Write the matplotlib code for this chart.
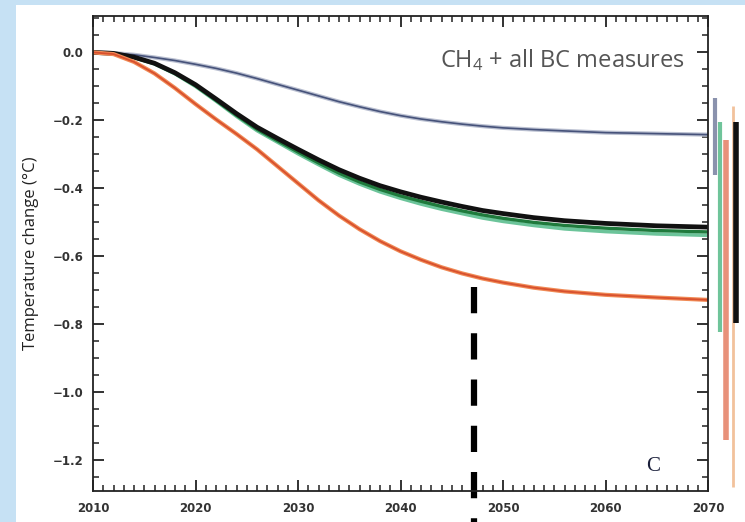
import matplotlib
matplotlib.use("Agg")
import matplotlib.pyplot as plt
from matplotlib.patches import Rectangle
from matplotlib.ticker import MultipleLocator, FuncFormatter

plt.rcParams["mathtext.fontset"] = "custom"
plt.rcParams["mathtext.rm"] = "Open Sans"
plt.rcParams["mathtext.it"] = "Open Sans"

years = [2010, 2012, 2014, 2016, 2018, 2020, 2022, 2024, 2026, 2028, 2030, 2032,
         2034, 2036, 2038, 2040, 2042, 2044, 2046, 2048, 2050, 2053, 2056, 2060,
         2065, 2070]

methane_only = [0.0, -0.002, -0.007, -0.015, -0.024, -0.035, -0.047, -0.061, -0.077,
                -0.094, -0.111, -0.128, -0.145, -0.160, -0.174, -0.186, -0.196,
                -0.204, -0.211, -0.217, -0.222, -0.227, -0.231, -0.236, -0.239,
                -0.242]
all_measures = [0.0, -0.003, -0.014, -0.032, -0.060, -0.095, -0.137, -0.180, -0.220,
                -0.253, -0.285, -0.316, -0.345, -0.370, -0.392, -0.410, -0.426,
                -0.440, -0.453, -0.465, -0.474, -0.486, -0.495, -0.503, -0.510,
                -0.514]
green_dark = [0.0, -0.003, -0.015, -0.033, -0.062, -0.098, -0.141, -0.185, -0.226,
              -0.260, -0.293, -0.325, -0.355, -0.381, -0.403, -0.422, -0.438,
              -0.453, -0.466, -0.478, -0.488, -0.500, -0.509, -0.517, -0.524,
              -0.528]
green_light = [0.0, -0.003, -0.015, -0.034, -0.063, -0.100, -0.143, -0.188, -0.230,
               -0.264, -0.298, -0.330, -0.361, -0.387, -0.410, -0.429, -0.446,
               -0.461, -0.474, -0.487, -0.497, -0.509, -0.519, -0.527, -0.534,
               -0.538]
orange_red = [0.0, -0.005, -0.028, -0.062, -0.105, -0.152, -0.197, -0.240, -0.285,
              -0.335, -0.385, -0.435, -0.480, -0.520, -0.555, -0.585, -0.610,
              -0.632, -0.650, -0.665, -0.677, -0.692, -0.703, -0.713, -0.721,
              -0.728]

# uncertainty bars drawn right of the axis
bar_x = [2070.7, 2071.2, 2071.8, 2072.4, 2072.7]
bar_low = [-0.362, -0.822, -1.140, -1.278, -0.796]
bar_high = [-0.134, -0.204, -0.257, -0.157, -0.204]
bar_colors = ["#8a92ad", "#6fc49a", "#e8917a", "#f2c29c", "#111111"]
bar_widths = [3, 3, 4, 2, 4]

target_year = 2047.2

fig = plt.figure(figsize=(7.45, 5.22), dpi=100, facecolor="#c6e1f4")
fig.add_artist(Rectangle((16 / 745, 0), 1, 1 - 5 / 522, transform=fig.transFigure,
                         facecolor="white", edgecolor="none", zorder=-5))
ax = fig.add_axes([93 / 745, 1 - 491 / 522, 615 / 745, 475 / 522])
ax.set_facecolor("white")

ax.plot(years, methane_only, color="#b9bfd0", lw=3.0)
ax.plot(years, methane_only, color="#46527a", lw=1.2)
ax.plot(years, green_light, color="#6cc49a", lw=2.6)
ax.plot(years, green_dark, color="#1f7a3c", lw=2.4)
ax.plot(years, all_measures, color="#111111", lw=3.4)
ax.plot(years, orange_red, color="#f08a55", lw=3.0)
ax.plot(years, orange_red, color="#d8502e", lw=1.3)

for x, lo, hi, c, w in zip(bar_x, bar_low, bar_high, bar_colors, bar_widths):
    ax.plot([x, x], [lo, hi], color=c, lw=w, solid_capstyle="butt", clip_on=False)

ax.plot([target_year, target_year], [-0.69, -1.38], color="black", lw=4.5,
        dashes=(4.2, 3.2), clip_on=False)

ax.set_xlim(2010, 2070)
ax.set_ylim(-1.29, 0.107)
ax.xaxis.set_major_locator(MultipleLocator(10))
ax.xaxis.set_minor_locator(MultipleLocator(1))
ax.yaxis.set_major_locator(MultipleLocator(0.2))
ax.yaxis.set_minor_locator(MultipleLocator(0.05))
ax.yaxis.set_major_formatter(FuncFormatter(
    lambda v, p: f"{v:.1f}".replace("-", "\u2212") if abs(v) > 1e-9 else "0.0"))
ax.tick_params(which="both", direction="in", top=True, right=True, color="#222222")
ax.tick_params(which="major", length=8, width=1.3)
ax.tick_params(which="minor", length=4, width=1.1)
ax.tick_params(axis="x", pad=8)
ax.tick_params(axis="y", pad=7)
for lab in ax.get_xticklabels() + ax.get_yticklabels():
    lab.set_fontsize(8.5)
    lab.set_fontweight("bold")
    lab.set_color("#333333")
for s in ax.spines.values():
    s.set_linewidth(1.3)
    s.set_color("#222222")

ax.set_ylabel("Temperature change (°C)", fontsize=12, family="Open Sans",
              color="#222222")
ax.yaxis.set_label_coords(-0.087, 0.5)

ax.text(0.963, 0.908, r"CH$_4$ + all BC measures", transform=ax.transAxes,
        ha="right", va="center", fontsize=17, family="Open Sans", color="#555555")
ax.text(0.91, 0.052, "C", transform=ax.transAxes, ha="center", va="center",
        fontsize=15, family="Liberation Serif", color="#1a1f3a")

fig.savefig("out.png", dpi=100, facecolor=fig.get_facecolor())
